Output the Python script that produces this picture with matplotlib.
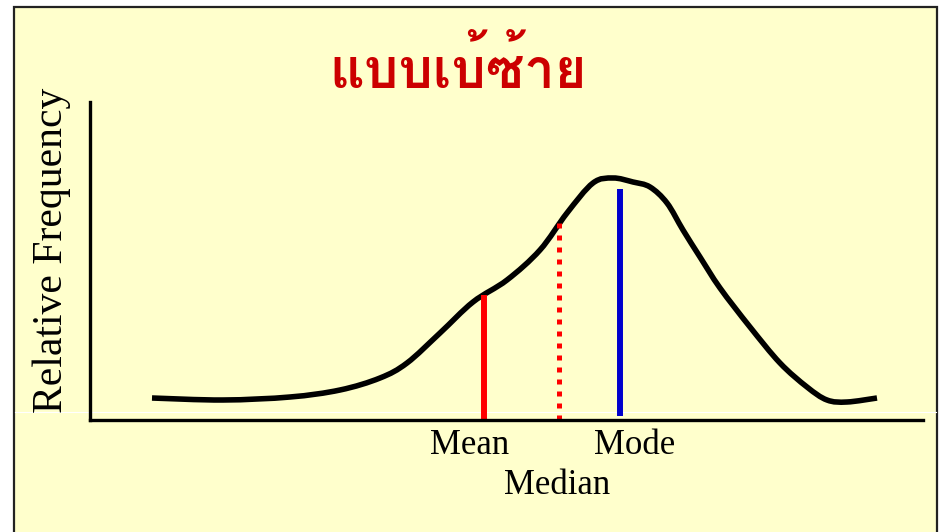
import matplotlib
matplotlib.use("Agg")
import matplotlib.pyplot as plt
import numpy as np
from matplotlib import font_manager
from matplotlib.ft2font import FT2Font
from matplotlib.patches import Rectangle, PathPatch
from matplotlib.path import Path
from matplotlib.lines import Line2D

BG = "#ffffcc"; TITLE_RED = "#cc0000"; RED = "#ff0000"; BLUE = "#0000cc"

TITLE = "แบบเบ้ซ้าย"
YLABEL = "Relative Frequency"

# curve (x to the right, y up from the x axis)
curve_x = [62, 133, 200, 250, 290, 317, 350, 383, 417, 450, 477, 503, 523, 543, 560, 577,
           593, 610, 630, 660, 690, 717, 737, 757, 787]
curve_y = [22, 20, 23, 30, 42, 57, 87, 118, 140, 170, 207, 237, 242, 238, 233, 217,
           190, 163, 132, 93, 57, 33, 20, 18, 22]

marker_names = ["Mean", "Median", "Mode"]
marker_x = [394, 469, 530]
marker_top = [125, 200, 231]


def thai_font():
    for f in font_manager.fontManager.ttflist:
        try:
            if 0x0E41 in FT2Font(f.fname).get_charmap():
                if "bold" in f.name.lower() or f.weight in ("bold", 700):
                    return f.name
        except Exception:
            pass
    for f in font_manager.fontManager.ttflist:
        try:
            if 0x0E41 in FT2Font(f.fname).get_charmap():
                return f.name
        except Exception:
            pass
    return "DejaVu Sans"


def smooth_path(xs, ys):
    # catmull-rom through the read points, as cubic bezier segments
    p = np.column_stack([xs, ys]).astype(float)
    verts = [p[0]]; codes = [Path.MOVETO]
    for i in range(len(p) - 1):
        p0 = p[i - 1] if i > 0 else p[i]
        p3 = p[i + 2] if i + 2 < len(p) else p[i + 1]
        c1 = p[i] + (p[i + 1] - p0) / 6
        c2 = p[i + 1] - (p3 - p[i]) / 6
        verts += [c1, c2, p[i + 1]]; codes += [Path.CURVE4] * 3
    return Path(verts, codes)


fig = plt.figure(figsize=(9.39, 5.32), dpi=100)
fig.patch.set_facecolor("white")
W, H = 939, 532
fig.add_artist(Rectangle((14 / W, -0.01), 923 / W, (525 / H) + 0.01, transform=fig.transFigure,
                         fc=BG, ec="#222222", lw=1.6, zorder=-2))
fig.add_artist(Line2D([15 / W, 936 / W], [(H - 412) / H] * 2, transform=fig.transFigure,
                      color="white", lw=0.8, zorder=-1))

ax = fig.add_axes([90 / W, (H - 420) / H, 833 / W, 318 / H])
ax.patch.set_visible(False)
ax.set_xlim(0, 833); ax.set_ylim(0, 318)
for s in ("top", "right"):
    ax.spines[s].set_visible(False)
for s in ("left", "bottom"):
    ax.spines[s].set_linewidth(2.4); ax.spines[s].set_color("black")
ax.set_xticks([]); ax.set_yticks([])

ax.add_patch(PathPatch(smooth_path(curve_x, curve_y), fill=False, ec="black", lw=4.0,
                       capstyle="butt", joinstyle="round"))
ax.plot([marker_x[0]] * 2, [0, marker_top[0]], color=RED, lw=4.3, solid_capstyle="butt")
ax.plot([marker_x[1]] * 2, [0, marker_top[1]], color=RED, lw=3.6, dashes=(1, 1.4),
        dash_capstyle="butt")
ax.plot([marker_x[2]] * 2, [4, marker_top[2]], color=BLUE, lw=4.3, solid_capstyle="butt")

serif = ["Liberation Serif", "DejaVu Serif"]
ax.text(380, -26, marker_names[0], ha="center", va="center", fontsize=25, family=serif)
ax.text(545, -26, marker_names[2], ha="center", va="center", fontsize=25, family=serif)
ax.text(467, -65, marker_names[1], ha="center", va="center", fontsize=25, family=serif)

fig.text(52 / W, 1 - 250 / H, YLABEL, rotation=90, ha="center", va="center", fontsize=30,
         family=serif)
fig.text(458 / W, 1 - 69 / H, TITLE, ha="center", va="center", fontsize=39, weight="bold",
         color=TITLE_RED, family=[thai_font(), "DejaVu Sans"])

fig.savefig("out.png", dpi=100, facecolor=fig.get_facecolor())
